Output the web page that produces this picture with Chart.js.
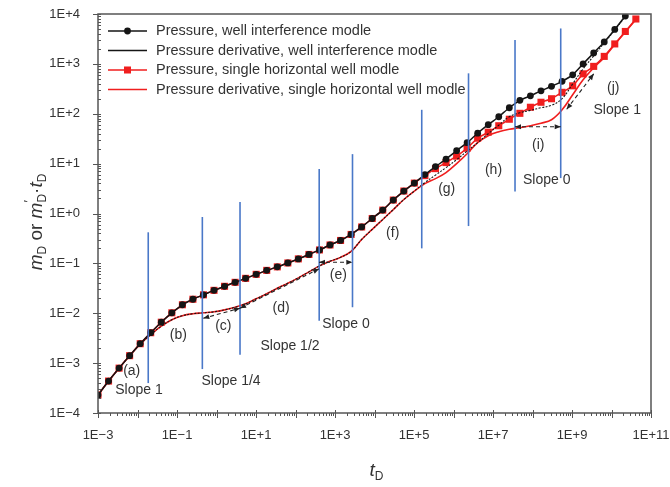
<!DOCTYPE html>
<html>
<head>
<meta charset="utf-8">
<script src="https://cdn.jsdelivr.net/npm/chart.js@4.4.0/dist/chart.umd.min.js"></script>
<style>
  html, body { margin: 0; padding: 0; background: #fff; }
</style>
</head>
<body>
<canvas id="chart" width="670" height="487"></canvas>
<script>
// dimensionless time (shared by all curves)
const tD = [
  1.00e-3, 1.85e-3, 3.42e-3, 6.32e-3, 1.17e-2, 2.16e-2, 4.00e-2, 7.40e-2, 0.137, 0.253,
  0.468, 0.865, 1.60, 2.96, 5.47, 10.1, 18.7, 34.6, 64.0, 118,
  219, 405, 748, 1384, 2559, 4732, 8750, 1.62e4, 2.99e4, 5.53e4,
  1.02e5, 1.89e5, 3.50e5, 6.47e5, 1.20e6, 2.21e6, 4.09e6, 7.57e6, 1.40e7, 2.59e7,
  4.79e7, 8.85e7, 1.64e8, 3.03e8, 5.60e8, 1.04e9, 1.91e9, 3.54e9, 6.55e9, 1.21e10,
  2.24e10, 4.14e10
];

// well interference model
const pWell = [
  2.29e-4, 4.37e-4, 7.94e-4, 1.41e-3, 2.45e-3, 4.07e-3, 6.61e-3, 1.02e-2, 1.48e-2, 1.91e-2,
  2.34e-2, 2.88e-2, 3.47e-2, 4.17e-2, 5.01e-2, 6.03e-2, 7.24e-2, 8.51e-2, 0.102, 0.123,
  0.151, 0.186, 0.234, 0.288, 0.380, 0.537, 0.794, 1.17, 1.86, 2.82,
  4.07, 6.03, 8.71, 12.3, 18.2, 26.3, 40.7, 60.3, 87.1, 132,
  186, 229, 288, 355, 447, 603, 1000, 1660, 2754, 4898,
  9120
];
const dWell = [
  2.29e-4, 4.37e-4, 7.94e-4, 1.41e-3, 2.40e-3, 3.72e-3, 5.50e-3, 7.41e-3, 8.91e-3, 9.77e-3,
  1.02e-2, 1.07e-2, 1.17e-2, 1.32e-2, 1.55e-2, 1.95e-2, 2.45e-2, 3.16e-2, 3.98e-2, 5.13e-2,
  6.76e-2, 8.91e-2, 0.110, 0.132, 0.174, 0.302, 0.479, 0.759, 1.20, 1.91,
  2.82, 4.17, 5.89, 8.32, 12.0, 17.8, 26.3, 39.8, 58.9, 87.1,
  105, 117, 132, 148, 200, 398, 794, 1445, 2630, 4786,
  8913
];

// single horizontal well model
const pSingle = [
  2.29e-4, 4.37e-4, 7.94e-4, 1.41e-3, 2.45e-3, 4.07e-3, 6.61e-3, 1.02e-2, 1.48e-2, 1.91e-2,
  2.34e-2, 2.88e-2, 3.47e-2, 4.17e-2, 5.01e-2, 6.03e-2, 7.24e-2, 8.51e-2, 0.102, 0.123,
  0.151, 0.186, 0.234, 0.288, 0.380, 0.537, 0.794, 1.17, 1.86, 2.82,
  4.07, 5.75, 7.94, 10.5, 14.1, 20.4, 32.4, 42.7, 57.5, 77.6,
  102, 135, 170, 200, 269, 363, 631, 891, 1413, 2512,
  4467, 7943
];
const dSingle = [
  2.29e-4, 4.37e-4, 7.94e-4, 1.41e-3, 2.40e-3, 3.72e-3, 5.50e-3, 7.41e-3, 8.91e-3, 9.77e-3,
  1.02e-2, 1.07e-2, 1.17e-2, 1.32e-2, 1.55e-2, 1.95e-2, 2.45e-2, 3.16e-2, 3.98e-2, 5.13e-2,
  6.76e-2, 8.91e-2, 0.110, 0.132, 0.174, 0.302, 0.479, 0.759, 1.20, 1.91,
  2.82, 3.98, 5.01, 6.61, 10.0, 15.8, 26.3, 36.3, 43.7, 49.0,
  52.5, 57.5, 64.6, 75.9, 120, 240, 479, 832, 1350, 2455,
  4365, 7762
];

// flow regime boundaries (blue lines)
const sepX = [0.0187, 0.438, 3.94, 398, 2773, 1.57e5, 2.40e6, 3.61e7, 5.18e8];
const sepTop = [0.42, 0.85, 1.70, 7.76, 15.5, 120, 646, 3020, 5129];
const sepBottom = [3.98e-4, 7.6e-4, 1.48e-3, 7.08e-3, 1.32e-2, 0.20, 0.56, 2.75, 5.13];

// slope arrows [x0, y0, x1, y1]
const arrows = [
  [0.463, 7.94e-3, 3.94, 1.26e-2],
  [3.94, 1.26e-2, 394, 7.76e-2],
  [394, 0.105, 2742, 0.105],
  [3.61e7, 55, 5.18e8, 55],
  [7.35e8, 123, 3.55e9, 631]
];

// annotations
const noteText = ['(a)', 'Slope 1', '(b)', '(c)', 'Slope 1/4', '(d)', 'Slope 1/2', '(e)', 'Slope 0',
  '(f)', '(g)', '(h)', '(i)', 'Slope 0', '(j)', 'Slope 1'];
const noteX = [7.13e-3, 1.09e-2, 0.108, 1.49, 2.33, 43, 72.6, 1213, 1897,
  2.89e4, 6.73e5, 1.03e7, 1.40e8, 2.29e8, 1.11e10, 1.40e10];
const noteY = [6.76e-4, 2.82e-4, 3.63e-3, 5.5e-3, 4.27e-4, 1.26e-2, 2.19e-3, 5.89e-2, 6.03e-3,
  0.398, 3.09, 7.24, 23.4, 4.68, 324, 120];

const seriesNames = [
  'Pressure, well interference modle',
  'Pressure derivative, well interference modle',
  'Pressure, single horizontal well modle',
  'Pressure derivative, single horizontal well modle'
];

const FONT = '"Liberation Sans", Arial, sans-serif';
const TXT = '#333';
const BLACK = '#151515';
const RED = '#f01e1e';
const BLUE = '#4a78c8';

const pts = (ys) => ys.map((y, i) => ({ x: tD[i], y }));
const expLabel = (v) => {
  const e = Math.round(Math.log10(v));
  return '1E' + (e < 0 ? '\u2212' + (-e) : '+' + e);
};
const noPad = (s) => { s.paddingTop = 0; s.paddingBottom = 0; s.paddingLeft = 0; s.paddingRight = 0; };

const sepSets = sepX.map((x, i) => ({
  data: [{ x, y: sepBottom[i] }, { x, y: sepTop[i] }],
  borderColor: BLUE, borderWidth: 1.6, pointRadius: 0, order: -1
}));

function arrowHead(ctx, x, y, fx, fy) {
  const a = Math.atan2(y - fy, x - fx);
  ctx.beginPath();
  ctx.moveTo(x, y);
  ctx.lineTo(x - 6 * Math.cos(a) + 2.5 * Math.sin(a), y - 6 * Math.sin(a) - 2.5 * Math.cos(a));
  ctx.lineTo(x - 6 * Math.cos(a) - 2.5 * Math.sin(a), y - 6 * Math.sin(a) + 2.5 * Math.cos(a));
  ctx.closePath();
  ctx.fill();
}

// draws mixed italic / subscript text centred on (0,0)
function richText(ctx, segs) {
  const widths = segs.map(s => {
    ctx.font = (s.it ? 'italic ' : '') + s.size + 'px ' + FONT;
    return s.noAdvance ? 0 : ctx.measureText(s.t).width;
  });
  let x = -widths.reduce((a, b) => a + b, 0) / 2;
  segs.forEach((s, i) => {
    ctx.font = (s.it ? 'italic ' : '') + s.size + 'px ' + FONT;
    ctx.fillText(s.t, x, s.dy || 0);
    x += widths[i];
  });
}

const decor = {
  id: 'decor',
  afterDraw(chart) {
    const { ctx, chartArea: a, scales: { x: xs, y: ys } } = chart;
    ctx.save();

    // frame
    ctx.strokeStyle = '#555';
    ctx.lineWidth = 1.5;
    ctx.strokeRect(a.left, a.top, a.right - a.left, a.bottom - a.top);

    // tick marks
    ctx.lineWidth = 1;
    ctx.beginPath();
    for (let e = -3; e <= 11; e++) {
      for (let k = 1; k <= 9; k++) {
        if (e === 11 && k > 1) break;
        const px = Math.round(xs.getPixelForValue(k * Math.pow(10, e))) + 0.5;
        if (k === 1) { ctx.moveTo(px, a.bottom - 3); ctx.lineTo(px, a.bottom + 5); }
        else { ctx.moveTo(px, a.bottom); ctx.lineTo(px, a.bottom + 3); }
      }
    }
    for (let e = -4; e <= 4; e++) {
      for (let k = 1; k <= 9; k++) {
        if (e === 4 && k > 1) break;
        const py = Math.round(ys.getPixelForValue(k * Math.pow(10, e))) + 0.5;
        if (k === 1) { ctx.moveTo(a.left - 5, py); ctx.lineTo(a.left + 3, py); }
        else { ctx.moveTo(a.left, py); ctx.lineTo(a.left + 3, py); }
      }
    }
    ctx.stroke();

    // slope arrows
    ctx.strokeStyle = '#222';
    ctx.fillStyle = '#222';
    ctx.lineWidth = 1.1;
    arrows.forEach(([x0, y0, x1, y1]) => {
      const p0 = [xs.getPixelForValue(x0), ys.getPixelForValue(y0)];
      const p1 = [xs.getPixelForValue(x1), ys.getPixelForValue(y1)];
      ctx.setLineDash([4, 3]);
      ctx.beginPath();
      ctx.moveTo(p0[0], p0[1]);
      ctx.lineTo(p1[0], p1[1]);
      ctx.stroke();
      ctx.setLineDash([]);
      arrowHead(ctx, p0[0], p0[1], p1[0], p1[1]);
      arrowHead(ctx, p1[0], p1[1], p0[0], p0[1]);
    });

    // regime notes
    ctx.fillStyle = TXT;
    ctx.font = '14px ' + FONT;
    ctx.textAlign = 'center';
    ctx.textBaseline = 'middle';
    noteText.forEach((t, i) => {
      ctx.fillText(t, xs.getPixelForValue(noteX[i]), ys.getPixelForValue(noteY[i]));
    });

    // legend
    ctx.textAlign = 'left';
    ctx.font = '14.5px ' + FONT;
    seriesNames.forEach((name, i) => {
      const y = a.top + 17 + i * 19.5;
      const col = i < 2 ? BLACK : RED;
      ctx.strokeStyle = col;
      ctx.fillStyle = col;
      ctx.lineWidth = 1.5;
      ctx.beginPath();
      ctx.moveTo(a.left + 10, y);
      ctx.lineTo(a.left + 49, y);
      ctx.stroke();
      if (i === 0) { ctx.beginPath(); ctx.arc(a.left + 29.5, y, 3.4, 0, Math.PI * 2); ctx.fill(); }
      if (i === 2) ctx.fillRect(a.left + 26, y - 3.5, 7, 7);
      ctx.fillStyle = TXT;
      ctx.fillText(name, a.left + 58, y);
    });

    // axis titles
    ctx.textAlign = 'left';
    ctx.textBaseline = 'alphabetic';
    ctx.save();
    ctx.translate((a.left + a.right) / 2 + 2, 476);
    richText(ctx, [
      { t: 't', it: true, size: 19 },
      { t: 'D', size: 12, dy: 4 }
    ]);
    ctx.restore();
    ctx.save();
    ctx.translate(42, 222);
    ctx.rotate(-Math.PI / 2);
    richText(ctx, [
      { t: 'm', it: true, size: 19 },
      { t: 'D', size: 12, dy: 4 },
      { t: ' or ', size: 19 },
      { t: 'm', it: true, size: 19 },
      { t: '\u2032', size: 13, dy: -9, noAdvance: true },
      { t: 'D', size: 12, dy: 4 },
      { t: '\u00b7', size: 19 },
      { t: 't', it: true, size: 19 },
      { t: 'D', size: 12, dy: 4 }
    ]);
    ctx.restore();

    ctx.restore();
  }
};

new Chart(document.getElementById('chart'), {
  type: 'line',
  data: {
    datasets: [
      { data: pts(pWell), borderColor: BLACK, backgroundColor: BLACK, borderWidth: 1.5,
        pointStyle: 'circle', pointRadius: 3.4, pointBorderWidth: 0, tension: 0.2 },
      { data: pts(dWell), borderColor: BLACK, borderWidth: 1.1, borderDash: [2, 1.5],
        pointRadius: 0, tension: 0.4 },
      { data: pts(pSingle), borderColor: RED, backgroundColor: RED, borderWidth: 1.5,
        pointStyle: 'rect', pointRadius: 5, pointBorderWidth: 0, tension: 0.2 },
      { data: pts(dSingle), borderColor: RED, borderWidth: 1.6, pointRadius: 0, tension: 0.4 },
      ...sepSets
    ]
  },
  options: {
    responsive: false,
    animation: false,
    events: [],
    layout: { padding: { top: 14, right: 19, left: 0, bottom: 0 } },
    plugins: { legend: { display: false }, tooltip: { enabled: false } },
    scales: {
      x: {
        type: 'logarithmic', min: 1e-3, max: 1e11,
        grid: { display: false, drawTicks: false },
        border: { display: false },
        afterBuildTicks: (s) => { s.ticks = [1e-3, 1e-1, 1e1, 1e3, 1e5, 1e7, 1e9, 1e11].map(v => ({ value: v })); },
        afterFit: (s) => { s.height = 74; noPad(s); },
        ticks: { autoSkip: false, maxRotation: 0, padding: 15, color: TXT,
          font: { family: FONT, size: 13 }, callback: expLabel }
      },
      y: {
        type: 'logarithmic', min: 1e-4, max: 1e4,
        grid: { display: false, drawTicks: false },
        border: { display: false },
        afterBuildTicks: (s) => { s.ticks = [1e-4, 1e-3, 1e-2, 1e-1, 1, 1e1, 1e2, 1e3, 1e4].map(v => ({ value: v })); },
        afterFit: (s) => { s.width = 98; noPad(s); },
        ticks: { autoSkip: false, padding: 18, color: TXT,
          font: { family: FONT, size: 13 }, callback: expLabel }
      }
    }
  },
  plugins: [decor]
});
</script>
</body>
</html>
